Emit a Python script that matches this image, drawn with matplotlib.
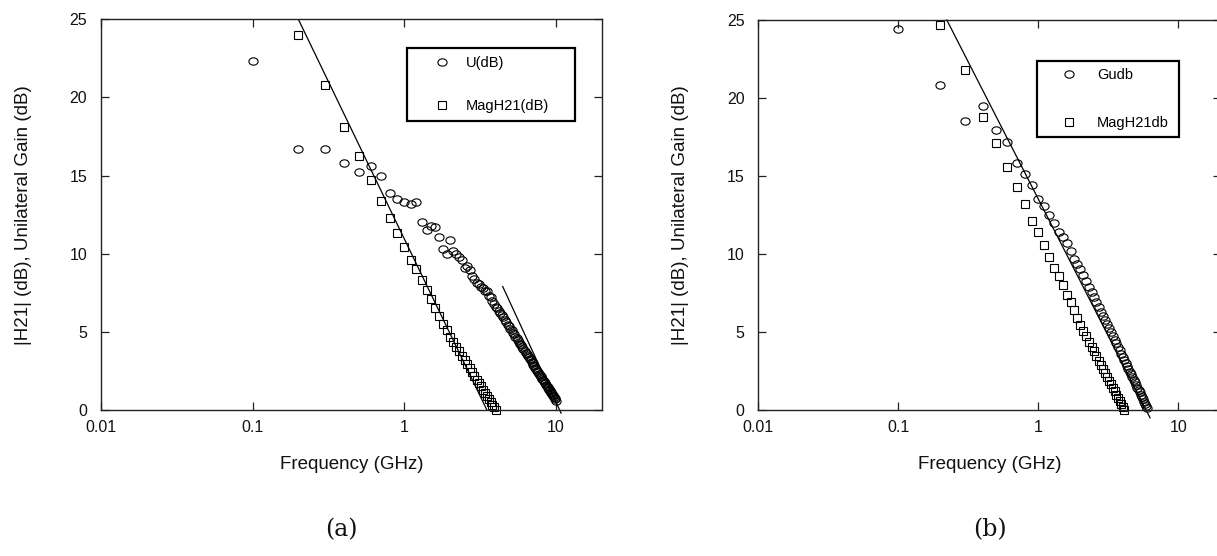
import matplotlib
matplotlib.use("Agg")
import matplotlib.pyplot as plt
from matplotlib.path import Path
from matplotlib.ticker import NullLocator, FixedFormatter, FixedLocator
import numpy as np

plt.rcParams['font.family'] = ['Liberation Sans', 'DejaVu Sans']

# ---------------- data ----------------
FREQ_GHZ = [0.1, 0.2, 0.3, 0.4, 0.5, 0.6, 0.7, 0.8, 0.9, 1.0,
            1.1, 1.2, 1.3, 1.4, 1.5, 1.6, 1.7, 1.8, 1.9, 2.0,
            2.1, 2.2, 2.3, 2.4, 2.5, 2.6, 2.7, 2.8, 2.9, 3.0,
            3.1, 3.2, 3.3, 3.4, 3.5, 3.6, 3.7, 3.8, 3.9, 4.0,
            4.1, 4.2, 4.3, 4.4, 4.5, 4.6, 4.7, 4.8, 4.9, 5.0,
            5.1, 5.2, 5.3, 5.4, 5.5, 5.6, 5.7, 5.8, 5.9, 6.0,
            6.1, 6.2, 6.3, 6.4, 6.5, 6.6, 6.7, 6.8, 6.9, 7.0,
            7.1, 7.2, 7.3, 7.4, 7.5, 7.6, 7.7, 7.8, 7.9, 8.0,
            8.1, 8.2, 8.3, 8.4, 8.5, 8.6, 8.7, 8.8, 8.9, 9.0,
            9.1, 9.2, 9.3, 9.4, 9.5, 9.6, 9.7, 9.8, 9.9, 10.0]

# (a) unilateral gain U(dB): 0.1 .. 10.0 GHz
a_u_db = [22.3, 16.7, 16.7, 15.8, 15.2, 15.6, 15.0, 13.9, 13.5, 13.3,
          13.2, 13.3, 12.0, 11.5, 11.8, 11.7, 11.1, 10.3, 10.0, 10.9,
          10.2, 10.0, 9.8, 9.6, 9.1, 9.2, 8.95, 8.6, 8.4, 8.1,
          8.05, 7.85, 7.8, 7.6, 7.6, 7.3, 7.2, 6.95, 6.8, 6.6,
          6.55, 6.35, 6.2, 6.05, 5.95, 5.75, 5.65, 5.45, 5.35, 5.2,
          5.1, 4.95, 4.85, 4.7, 4.6, 4.45, 4.35, 4.2, 4.15, 4.0,
          3.9, 3.8, 3.65, 3.6, 3.45, 3.4, 3.25, 3.2, 3.05, 3.0,
          2.9, 2.8, 2.7, 2.6, 2.5, 2.45, 2.3, 2.25, 2.15, 2.1,
          2.0, 1.95, 1.85, 1.75, 1.7, 1.6, 1.55, 1.45, 1.4, 1.3,
          1.25, 1.15, 1.1, 1.0, 0.95, 0.9, 0.8, 0.75, 0.7, 0.6]
a_u_freq = FREQ_GHZ[0:100]

# (a) |H21| MagH21(dB): 0.2 .. 4.0 GHz
a_h21_db = [24.0, 20.8, 18.1, 16.25, 14.7, 13.4, 12.3, 11.3, 10.4,
            9.6, 9.0, 8.3, 7.7, 7.1, 6.5, 6.0, 5.5, 5.1, 4.7,
            4.37, 4.05, 3.75, 3.46, 3.19, 2.92, 2.67, 2.42, 2.18, 1.95,
            1.73, 1.51, 1.30, 1.10, 0.91, 0.71, 0.53, 0.35, 0.17, 0.0]
a_h21_freq = FREQ_GHZ[1:40]

# (a) guide lines (endpoints: GHz, dB)
a_line1_f = [0.2, 3.5]
a_line1_db = [25.0, 0.0]
a_line2_f = [4.45, 10.8]
a_line2_db = [7.9, -0.2]

# (b) Gudb: 0.1 .. 6.0 GHz
b_gu_db = [24.4, 20.85, 18.55, 19.5, 17.95, 17.2, 15.85, 15.1, 14.4, 13.5,
           13.1, 12.5, 12.0, 11.4, 11.1, 10.7, 10.2, 9.65, 9.35, 9.05,
           8.65, 8.27, 7.91, 7.57, 7.23, 6.92, 6.61, 6.31, 6.03, 5.75,
           5.49, 5.23, 4.98, 4.74, 4.50, 4.27, 4.05, 3.83, 3.62, 3.42,
           3.22, 3.02, 2.83, 2.64, 2.46, 2.28, 2.11, 1.94, 1.77, 1.60,
           1.44, 1.29, 1.13, 0.98, 0.83, 0.68, 0.54, 0.40, 0.26, 0.12]
b_gu_freq = FREQ_GHZ[0:60]

# (b) MagH21db: 0.2 .. 4.1 GHz
b_h21_db = [24.7, 21.8, 18.8, 17.1, 15.6, 14.3, 13.2, 12.1, 11.4,
            10.6, 9.8, 9.1, 8.6, 8.0, 7.4, 6.9, 6.4, 5.9, 5.45,
            5.08, 4.73, 4.39, 4.07, 3.76, 3.46, 3.17, 2.90, 2.63, 2.37,
            2.12, 1.88, 1.65, 1.42, 1.20, 0.99, 0.78, 0.58, 0.38, 0.19, 0.0]
b_h21_freq = FREQ_GHZ[1:41]

b_line_f = [0.222, 6.28]
b_line_db = [25.0, -0.5]

x_ticks = [0.01, 0.1, 1, 10]
x_ticklabels = ["0.01", "0.1", "1", "10"]
y_ticks = [0, 5, 10, 15, 20, 25]
y_ticklabels = ["0", "5", "10", "15", "20", "25"]

legend_a = ["U(dB)", "MagH21(dB)"]
legend_b = ["Gudb", "MagH21db"]
x_label = "Frequency (GHz)"
y_label = "|H21| (dB), Unilateral Gain (dB)"

# ---------------- style ----------------
circ = Path.unit_circle()
ELLIPSE = Path(circ.vertices * np.array([1.0, 0.8]), circ.codes)

W, H = 1217, 556
fig = plt.figure(figsize=(W / 100, H / 100), dpi=100)


def px_axes(x0, x1, ytop, ybot):
    return fig.add_axes([x0 / W, 1 - ybot / H, (x1 - x0) / W, (ybot - ytop) / H])


ax_a = px_axes(101, 601.7, 19.3, 410)
ax_b = px_axes(758.3, 1220.5, 20, 410)

MS_C = 6.6
MS_S = 6.0
MEW = 0.8

for ax in (ax_a, ax_b):
    ax.set_xscale('log')
    ax.set_xlim(0.01, 20)
    ax.set_ylim(0, 25)
    ax.xaxis.set_major_locator(FixedLocator(x_ticks))
    ax.xaxis.set_major_formatter(FixedFormatter(x_ticklabels))
    ax.xaxis.set_minor_locator(NullLocator())
    ax.yaxis.set_major_locator(FixedLocator(y_ticks))
    ax.yaxis.set_major_formatter(FixedFormatter(y_ticklabels))
    ax.tick_params(direction='in', length=5.5, width=0.9, top=True, right=True,
                   labelsize=11.5, color='#222222', labelcolor='#111111')
    ax.tick_params(axis='x', pad=7)
    ax.tick_params(axis='y', pad=10)
    for s in ax.spines.values():
        s.set_linewidth(1.0)
        s.set_color('#222222')
    ax.set_xlabel(x_label, fontsize=13.5, color='#111111')
    ax.set_ylabel(y_label, fontsize=13.5, color='#111111')
    ax.xaxis.label.set_va('top')

ax_a.xaxis.set_label_coords(0.5, -0.117)
ax_a.yaxis.set_label_coords(-0.138, 0.5)
ax_b.xaxis.set_label_coords(0.5, -0.117)
ax_b.yaxis.set_label_coords(-0.150, 0.5)

# ---- (a)
ax_a.plot(a_u_freq, a_u_db, linestyle='none', marker=ELLIPSE, ms=MS_C,
          mfc='none', mec='black', mew=MEW, clip_on=False, label=legend_a[0])
ax_a.plot(a_h21_freq, a_h21_db, linestyle='none', marker='s', ms=MS_S,
          mfc='none', mec='black', mew=MEW, clip_on=False, label=legend_a[1])
ax_a.plot(a_line1_f, a_line1_db, color='black', lw=0.9)
ax_a.plot(a_line2_f, a_line2_db, color='black', lw=0.9, clip_on=False)

leg_a = ax_a.legend(loc='upper left', bbox_to_anchor=(0.6106, 0.70, 0.336, 0.2273),
                    mode='expand', borderaxespad=0, fontsize=10.5, frameon=True,
                    fancybox=False, edgecolor='black', framealpha=1, borderpad=0.55,
                    handlelength=3.8, handletextpad=-0.3, labelspacing=2.0,
                    numpoints=1)
leg_a.get_frame().set_linewidth(1.6)

# ---- (b)
ax_b.plot(b_gu_freq, b_gu_db, linestyle='none', marker=ELLIPSE, ms=MS_C,
          mfc='none', mec='black', mew=MEW, clip_on=False, label=legend_b[0])
ax_b.plot(b_h21_freq, b_h21_db, linestyle='none', marker='s', ms=MS_S,
          mfc='none', mec='black', mew=MEW, clip_on=False, label=legend_b[1])
ax_b.plot(b_line_f, b_line_db, color='black', lw=0.9, clip_on=False)

leg_b = ax_b.legend(loc='upper left', bbox_to_anchor=(0.6023, 0.70, 0.3076, 0.1949),
                    mode='expand', borderaxespad=0, fontsize=10.5, frameon=True,
                    fancybox=False, edgecolor='black', framealpha=1, borderpad=0.5,
                    handlelength=3.4, handletextpad=0.25, labelspacing=2.3,
                    numpoints=1)
leg_b.get_frame().set_linewidth(1.6)

# captions
fig.text(341 / W, 1 - 530 / H, "(a)", fontsize=17, family='DejaVu Serif',
         ha='center', va='center', color='#111111')
fig.text(990 / W, 1 - 530 / H, "(b)", fontsize=17, family='DejaVu Serif',
         ha='center', va='center', color='#111111')

fig.savefig("out.png", dpi=100)
